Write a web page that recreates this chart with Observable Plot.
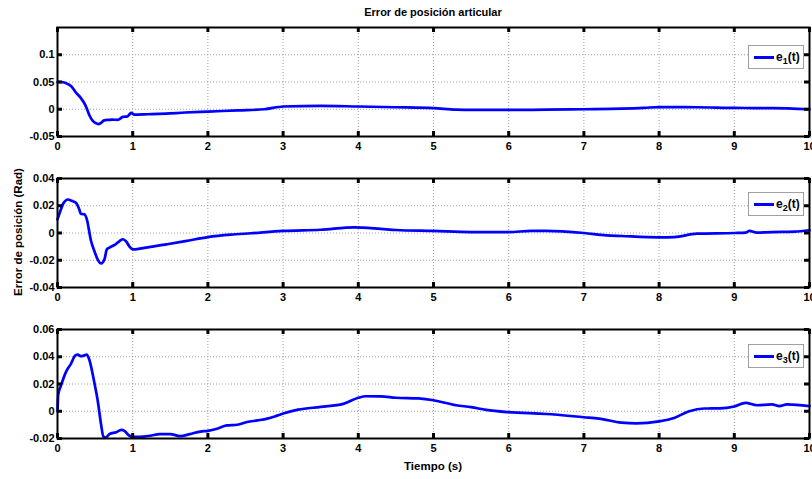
<!DOCTYPE html>
<html><head><meta charset="utf-8">
<script src="https://cdn.jsdelivr.net/npm/d3@7"></script>
<script src="https://cdn.jsdelivr.net/npm/@observablehq/plot@0.6"></script>
<style>
html,body{margin:0;padding:0;background:#fff;overflow:hidden;}
#chart{position:relative;width:812px;height:479px;font-family:"Liberation Sans",Arial,sans-serif;font-weight:bold;color:#000;}
#chart svg{position:absolute;left:0;overflow:visible;}
.txt{position:absolute;font-size:11px;font-weight:bold;white-space:nowrap;}
.legend{position:absolute;left:748px;width:56px;height:24px;border:1px solid #a0a0a0;background:#fff;box-sizing:border-box;}
.legend .ln{position:absolute;left:5px;top:10px;width:20px;height:3px;background:#0000ff;}
.legend .lt{position:absolute;left:27px;top:4px;font-size:12px;font-weight:bold;line-height:14px;}
.legend sub{font-size:9px;vertical-align:-3px;line-height:0;}
</style></head>
<body><div id="chart"></div>
<script>
// ---- data ----
const title = "Error de posición articular";
const xLabel = "Tiempo (s)";
const yLabel = "Error de posición (Rad)";
const xTicks = [0,1,2,3,4,5,6,7,8,9,10];

const t1 = [0,0.05,0.11,0.179,0.246,0.313,0.357,0.388,0.424,0.469,0.513,0.545,0.58,0.62,0.68,0.73,0.8,0.87,0.93,0.98,1.02,1.2,1.44,1.7,2,2.4,2.75,3,3.5,4,4.5,5,5.3,5.5,6,6.5,7,7.5,7.8,8,8.5,9,9.5,10];
const e1 = [0.05,0.05,0.048,0.0427,0.0305,0.0201,0.011,0.0018,-0.011,-0.0213,-0.0256,-0.0274,-0.025,-0.0205,-0.0195,-0.019,-0.0195,-0.014,-0.013,-0.0067,-0.010,-0.0092,-0.008,-0.006,-0.0043,-0.002,0,0.005,0.0062,0.005,0.0037,0.002,-0.0006,-0.0012,-0.0012,-0.0008,0,0.001,0.0025,0.004,0.0037,0.0024,0.002,0];
const y1Domain = [-0.05,0.15];
const y1Ticks = [-0.05,0,0.05,0.1];

const t2 = [0,0.045,0.08,0.11,0.134,0.2,0.245,0.29,0.31,0.357,0.39,0.446,0.49,0.535,0.58,0.625,0.656,0.69,0.76,0.826,0.87,0.915,0.96,1.0,1.2,1.45,1.7,2,2.3,2.57,3,3.5,3.95,4.3,4.5,5,5.5,6,6.3,6.5,7,7.3,7.5,8,8.2,8.5,9,9.15,9.2,9.3,9.5,9.8,10];
const e2 = [0.01,0.0173,0.022,0.0239,0.0246,0.0234,0.0222,0.0173,0.0141,0.0137,0.01,-0.0059,-0.0132,-0.0195,-0.0224,-0.0193,-0.012,-0.0107,-0.0088,-0.0059,-0.0046,-0.0063,-0.0102,-0.012,-0.0105,-0.0083,-0.006,-0.003,-0.0012,-0.0002,0.0015,0.0024,0.0041,0.003,0.0022,0.0015,0.0007,0.0007,0.0015,0.0015,0,-0.0017,-0.0022,-0.0032,-0.003,-0.0005,0,0.0003,0.0015,0.0003,0.0007,0.001,0.002];
const y2Domain = [-0.04,0.04];
const y2Ticks = [-0.04,-0.02,0,0.02,0.04];

const t3 = [0,0.01,0.045,0.11,0.18,0.237,0.268,0.31,0.357,0.388,0.42,0.49,0.536,0.58,0.61,0.64,0.69,0.78,0.85,0.89,0.94,1.0,1.09,1.23,1.36,1.5,1.63,1.76,1.9,2,2.12,2.25,2.39,2.52,2.66,2.79,2.92,3,3.2,3.5,3.8,4,4.1,4.3,4.5,4.8,5,5.3,5.5,5.7,6,6.5,7,7.2,7.5,7.7,8,8.2,8.4,8.6,8.8,9,9.15,9.3,9.5,9.6,9.7,10];
const e3 = [0,0.0124,0.0186,0.0285,0.035,0.041,0.0416,0.0404,0.041,0.0416,0.0384,0.021,0.0074,-0.0099,-0.0186,-0.0193,-0.0168,-0.0154,-0.0136,-0.0144,-0.0173,-0.0188,-0.0188,-0.018,-0.0168,-0.0168,-0.0183,-0.0168,-0.0149,-0.0144,-0.0129,-0.0104,-0.0099,-0.0079,-0.0067,-0.0054,-0.0032,-0.0017,0.0012,0.0032,0.0054,0.0099,0.011,0.0109,0.0099,0.0094,0.0081,0.0044,0.003,0.001,-0.0007,-0.002,-0.0044,-0.0054,-0.0084,-0.0089,-0.0074,-0.0049,0,0.002,0.0021,0.0035,0.0062,0.0044,0.005,0.0038,0.005,0.0037];
const y3Domain = [-0.02,0.06];
const y3Ticks = [-0.02,0,0.02,0.04,0.06];

const seriesNames = ["1","2","3"];

// ---- drawing ----
const chart = document.getElementById("chart");
const font = '"Liberation Sans", Arial, sans-serif';
const W = 812, H = 151, ML = 57, MR = 3, MT = 27, MB = 15;
const plotW = W - ML - MR, plotH = H - MT - MB, tickLen = 5;

function panel(t, e, yDomain, yTicks, top) {
  const data = t.map((x, i) => ({t: x, v: e[i]}));
  const tickStyle = {stroke: "#000", strokeWidth: 3};
  const svg = Plot.plot({
    width: W, height: H,
    marginLeft: ML, marginRight: MR, marginTop: MT, marginBottom: MB,
    x: {domain: [0, 10]},
    y: {domain: yDomain},
    style: {fontFamily: font, fontSize: "11px", fontWeight: "bold", color: "#000", background: "transparent"},
    marks: [
      Plot.gridX(xTicks, {stroke: "#a0a0a0", strokeOpacity: 1, strokeDasharray: "1,2", strokeWidth: 1}),
      Plot.gridY(yTicks, {stroke: "#a0a0a0", strokeOpacity: 1, strokeDasharray: "1,2", strokeWidth: 1}),
      Plot.line(data, {x: "t", y: "v", stroke: "#0000ff", strokeWidth: 2.7, curve: "monotone-x"}),
      Plot.axisX(xTicks, {anchor: "bottom", tickSize: 0, tickPadding: 6, label: null, tickFormat: d => String(d)}),
      Plot.axisY(yTicks, {anchor: "left", tickSize: 0, tickPadding: 3, label: null, tickFormat: d => String(d)}),
      // inward tick marks (top, bottom, left, right)
      Plot.tickX(xTicks, {x: d => d, insetBottom: plotH - tickLen, ...tickStyle}),
      Plot.tickX(xTicks, {x: d => d, insetTop: plotH - tickLen, ...tickStyle}),
      Plot.tickY(yTicks, {y: d => d, insetRight: plotW - tickLen, ...tickStyle}),
      Plot.tickY(yTicks, {y: d => d, insetLeft: plotW - tickLen, ...tickStyle}),
      Plot.frame({stroke: "#000", strokeWidth: 2})
    ]
  });
  svg.style.top = top + "px";
  chart.appendChild(svg);
}

panel(t1, e1, y1Domain, y1Ticks, 0);
panel(t2, e2, y2Domain, y2Ticks, 151);
panel(t3, e3, y3Domain, y3Ticks, 302);

function addText(txt, css) {
  const d = document.createElement("div");
  d.className = "txt";
  d.textContent = txt;
  Object.assign(d.style, css);
  chart.appendChild(d);
  return d;
}
addText(title, {left: "433px", top: "12px", transform: "translate(-50%,-50%)"});
addText(xLabel, {left: "433px", top: "466px", transform: "translate(-50%,-50%)", fontSize: "11.5px"});
addText(yLabel, {left: "18px", top: "232px", transform: "translate(-50%,-50%) rotate(-90deg)", fontSize: "11.5px"});

const legendTops = [45, 192, 344];
seriesNames.forEach((n, i) => {
  const lg = document.createElement("div");
  lg.className = "legend";
  lg.style.top = legendTops[i] + "px";
  lg.innerHTML = '<div class="ln"></div><div class="lt">e<sub>' + n + '</sub>(t)</div>';
  chart.appendChild(lg);
});
</script>
</body></html>
